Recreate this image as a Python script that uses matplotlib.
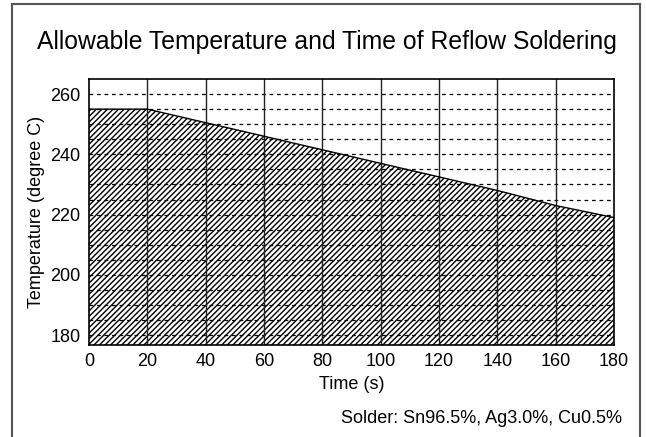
import numpy as np
import matplotlib
matplotlib.use("Agg")
import matplotlib.pyplot as plt
from matplotlib.lines import Line2D

plt.rcParams['font.family'] = ['Liberation Sans', 'DejaVu Sans']
plt.rcParams['hatch.linewidth'] = 1.0

# reflow profile
time_s = [0, 20, 40, 60, 80, 100, 120, 140, 160, 180]
temp_c = [255, 255, 250.5, 246, 241.5, 237, 232.5, 228, 223, 219]

x_ticks = [0, 20, 40, 60, 80, 100, 120, 140, 160, 180]
y_ticks = [180, 200, 220, 240, 260]
y_grid = list(range(180, 261, 5))

fig = plt.figure(figsize=(6.46, 4.37), dpi=100)
ax = fig.add_axes([0.1378, 0.2105, 0.8127, 0.6087])

ax.fill_between(time_s, 176.7, temp_c, facecolor='white', edgecolor='black',
                hatch='//////', linewidth=0, zorder=1)
ax.plot(time_s, temp_c, color='black', lw=1.0, zorder=3)

for y in y_grid:
    ax.axhline(y, color='black', lw=0.9, ls=(0, (3, 3)), zorder=2)
for x in x_ticks[1:-1]:
    ax.axvline(x, color='#222222', lw=1.0, zorder=2)

ax.set_xlim(0, 180)
ax.set_ylim(176.7, 265)
ax.set_xticks(x_ticks)
ax.set_yticks(y_ticks)
ax.tick_params(length=0, labelsize=13, pad=6)
for s in ax.spines.values():
    s.set_linewidth(1.2)
    s.set_zorder(4)

ax.set_xlabel('Time (s)', fontsize=13, labelpad=4)
ax.set_ylabel('Temperature (degree C)', fontsize=13, labelpad=4)

fig.text(0.506, 0.905, 'Allowable Temperature and Time of Reflow Soldering',
         ha='center', va='center', fontsize=17.8)
fig.text(0.963, 0.043, 'Solder: Sn96.5%, Ag3.0%, Cu0.5%',
         ha='right', va='center', fontsize=13)

# outer frame (open at the bottom)
W, H = 646, 437
fx0, fx1, fy = 12 / W, 640 / W, 1 - 4 / H
for xs, ys in [([fx0, fx0], [0, fy]), ([fx1, fx1], [0, fy]), ([fx0, fx1], [fy, fy])]:
    fig.add_artist(Line2D(xs, ys, color='#555555', lw=1.5))

fig.savefig('out.png', dpi=100)
